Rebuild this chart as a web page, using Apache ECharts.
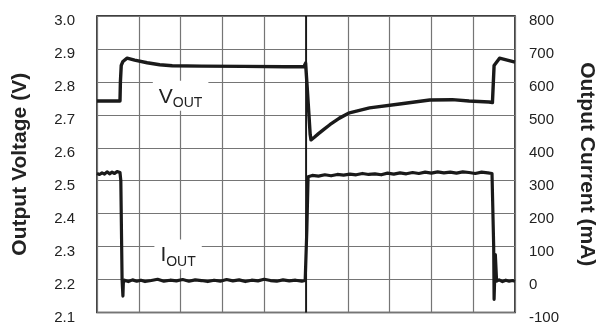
<!DOCTYPE html>
<html>
<head>
<meta charset="utf-8">
<script src="https://cdn.jsdelivr.net/npm/echarts@6/dist/echarts.min.js"></script>
<style>
  html, body { margin: 0; padding: 0; background: #fff; }
  #chart { width: 605px; height: 325px; }
</style>
</head>
<body>
<div id="chart"></div>
<script>
// Load transient: output voltage (left axis) and output current (right axis)
// Time runs over 10 horizontal divisions.
const timeV = [0, 0.55, 0.56, 0.58, 0.62, 0.72, 0.9, 1.2, 1.5, 1.8, 2.5, 3.5, 4.5, 4.95, 4.99,
  5.03, 5.1, 5.12, 5.2, 5.3, 5.42, 5.57, 5.8, 6.04, 6.52, 7.24, 7.96, 8.5, 8.9, 9.38, 9.46,
  9.48, 9.5, 9.63, 10];
const vout = [2.742, 2.742, 2.80, 2.85, 2.862, 2.872, 2.866, 2.858, 2.852, 2.849, 2.848, 2.847,
  2.846, 2.846, 2.857, 2.78, 2.64, 2.624, 2.632, 2.643, 2.655, 2.670, 2.690, 2.706, 2.721,
  2.733, 2.745, 2.746, 2.742, 2.739, 2.737, 2.74, 2.85, 2.872, 2.860];

const timeI = [0, 0.06, 0.12, 0.18, 0.24, 0.3, 0.36, 0.42, 0.48, 0.55, 0.57, 0.6, 0.62, 0.63,
  0.66, 0.75, 0.85, 0.95, 1.05, 1.15, 1.3, 1.45, 1.6, 1.75, 1.9, 2.05, 2.2, 2.35, 2.5, 2.65,
  2.8, 2.95, 3.1, 3.25, 3.4, 3.55, 3.7, 3.85, 4.0, 4.15, 4.3, 4.45, 4.6, 4.75, 4.9, 4.98,
  5.02, 5.05, 5.15, 5.3, 5.45, 5.6, 5.75, 5.9, 6.05, 6.2, 6.35, 6.5, 6.65, 6.8, 6.95, 7.1,
  7.25, 7.4, 7.55, 7.7, 7.85, 8.0, 8.15, 8.3, 8.45, 8.6, 8.75, 8.9, 9.05, 9.2, 9.35, 9.45,
  9.47, 9.49, 9.5, 9.53, 9.56, 9.62, 9.7, 9.78, 9.86, 9.94, 10];
const iout = [322, 319, 324, 320, 327, 321, 326, 322, 328, 325, 300, 0, -50, -10,
  -2, -6, -1, -5, -2, -6, -3, 1, -5, -2, -4, 0, -5, -1, -3, -6,
  -2, -5, 0, -4, -1, -6, -2, -4, 1, -3, -5, -1, -4, -2, -5, -3,
  150, 312, 316, 314, 318, 315, 319, 317, 320, 318, 322, 319, 321, 318, 323, 320,
  324, 321, 325, 322, 326, 323, 327, 324, 326, 323, 327, 325, 322, 326, 324, 322,
  322, 100, -60, 76, -5, -1, -6, -2, -5, -3, -5];

const voltTicks = { min: 2.1, max: 3.0, step: 0.1 };
const currTicks = { min: -100, max: 800, step: 100 };

const zip = (xs, ys) => xs.map((x, i) => [x, ys[i]]);

const font = '"Liberation Sans", Arial, Helvetica, sans-serif';
const gridColor = '#757575';
const inkColor = '#1a1a1a';

const chart = echarts.init(document.getElementById('chart'), null, { renderer: 'canvas' });

// Tick labels sit slightly below their grid lines
const tickRich = {
  t: { fontFamily: font, fontSize: 15, color: '#222', padding: [10, 0, 0, 0] }
};

const tagLabel = (main) => ({
  show: true,
  position: 'inside',
  backgroundColor: '#fff',
  padding: [4, 6, 2, 6],
  formatter: '{m|' + main + '}{s|OUT}',
  rich: {
    m: { fontFamily: font, fontSize: 21, color: '#222', lineHeight: 24 },
    s: { fontFamily: font, fontSize: 14, color: '#222', lineHeight: 24, padding: [13, 0, 0, 0] }
  }
});

const titleStyle = { fontFamily: font, fontSize: 21, fontWeight: 'bold', color: '#222' };

chart.setOption({
  animation: false,
  textStyle: { fontFamily: font },
  grid: {
    left: 97, right: 89, top: 16, bottom: 12,
    show: true, borderColor: '#000', borderWidth: 1.5, containLabel: false
  },
  xAxis: {
    type: 'value', min: 0, max: 10, interval: 1,
    axisLabel: { show: false }, axisTick: { show: false },
    axisLine: { show: false },
    splitLine: { show: true, lineStyle: { color: gridColor, width: 1.2 } }
  },
  yAxis: [
    {
      type: 'value', min: voltTicks.min, max: voltTicks.max, interval: voltTicks.step,
      position: 'left',
      name: 'Output Voltage (V)', nameLocation: 'middle', nameGap: 66, nameRotate: 90,
      nameTextStyle: titleStyle,
      axisLine: { show: false }, axisTick: { show: false },
      axisLabel: {
        margin: 22, rich: tickRich,
        formatter: v => '{t|' + v.toFixed(1) + '}'
      },
      splitLine: { show: true, lineStyle: { color: gridColor, width: 1.2 } }
    },
    {
      type: 'value', min: currTicks.min, max: currTicks.max, interval: currTicks.step,
      position: 'right',
      name: 'Output Current (mA)', nameLocation: 'middle', nameGap: 61, nameRotate: -90,
      nameTextStyle: titleStyle,
      axisLine: { show: false }, axisTick: { show: false },
      axisLabel: {
        margin: 14, rich: tickRich,
        formatter: v => '{t|' + v + '}'
      },
      splitLine: { show: false }
    }
  ],
  series: [
    {
      name: 'VOUT', type: 'line', yAxisIndex: 0, data: zip(timeV, vout),
      showSymbol: false, symbol: 'none', z: 5,
      lineStyle: { color: inkColor, width: 3.4, join: 'round' },
      markLine: {
        silent: true, symbol: 'none', label: { show: false },
        lineStyle: { color: '#000', width: 1.6, type: 'solid' },
        data: [{ xAxis: 5 }]
      },
      markPoint: {
        symbol: 'rect', symbolSize: 1, itemStyle: { color: 'rgba(0,0,0,0)' },
        data: [{ coord: [2.0, 2.758], label: tagLabel('V') }]
      }
    },
    {
      name: 'IOUT', type: 'line', yAxisIndex: 1, data: zip(timeI, iout),
      showSymbol: false, symbol: 'none', z: 5,
      lineStyle: { color: inkColor, width: 3.2, join: 'round' },
      markPoint: {
        symbol: 'rect', symbolSize: 1, itemStyle: { color: 'rgba(0,0,0,0)' },
        data: [{ coord: [1.94, 76], label: tagLabel('I') }]
      }
    }
  ]
});
</script>
</body>
</html>
